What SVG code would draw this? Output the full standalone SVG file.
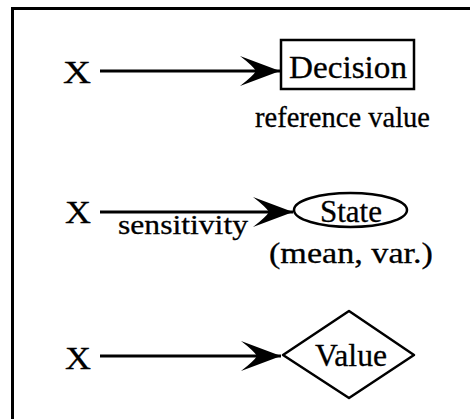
<svg xmlns="http://www.w3.org/2000/svg" width="470" height="419" viewBox="0 0 470 419">
  <style>
    text { font-family: "Liberation Serif", "Times New Roman", serif; font-size: 32px; fill: #000; stroke: #000; stroke-width: 0.3; }
    .small { font-size: 30px; }
    .label { font-size: 28px; }
    .edge { stroke: #000; stroke-width: 3; fill: none; }
    .shape { stroke: #000; stroke-width: 2.5; fill: #fff; }
    .frame { stroke: #000; stroke-width: 3; fill: none; }
  </style>
  <defs>
    <marker id="head" markerUnits="userSpaceOnUse" markerWidth="44" markerHeight="34" viewBox="-42 -17 44 34" refX="0" refY="0" orient="auto">
      <path d="M0,0 L-40,-15 Q-27,-5 -24,0 Q-27,5 -40,15 Z" fill="#000"/>
    </marker>
  </defs>

  <!-- frame (top and left edges) -->
  <path class="frame" d="M12.5,419 V8.5 H470"/>

  <!-- connectors -->
  <g id="connectors">
    <line class="edge" x1="100" y1="71" x2="280" y2="71" marker-end="url(#head)"/>
    <line class="edge" x1="100" y1="212" x2="293" y2="212" marker-end="url(#head)"/>
    <line class="edge" x1="100" y1="356" x2="281" y2="356" marker-end="url(#head)"/>
  </g>

  <!-- row 1: decision -->
  <g id="x1"><text x="63" y="83" textLength="28" lengthAdjust="spacingAndGlyphs">X</text></g>
  <g id="decision">
    <rect class="shape" x="281" y="40" width="133" height="49"/>
    <text x="289" y="78" textLength="118" lengthAdjust="spacingAndGlyphs">Decision</text>
    <text class="small" x="255" y="127" textLength="175" lengthAdjust="spacingAndGlyphs">reference value</text>
  </g>

  <!-- row 2: state -->
  <g id="x2"><text x="65" y="223" textLength="26" lengthAdjust="spacingAndGlyphs">X</text></g>
  <text class="label" x="118" y="234" textLength="130" lengthAdjust="spacingAndGlyphs">sensitivity</text>
  <g id="state">
    <ellipse class="shape" cx="350.5" cy="210" rx="56.5" ry="17"/>
    <text x="320" y="222" textLength="62" lengthAdjust="spacingAndGlyphs">State</text>
    <text class="small" x="269" y="263" textLength="164" lengthAdjust="spacingAndGlyphs">(mean, var.)</text>
  </g>

  <!-- row 3: value -->
  <g id="x3"><text x="65" y="369" textLength="26" lengthAdjust="spacingAndGlyphs">X</text></g>
  <g id="value">
    <polygon class="shape" points="283,355 349,311 414,355 349,398" stroke-linejoin="round"/>
    <text x="315" y="366" textLength="72" lengthAdjust="spacingAndGlyphs">Value</text>
  </g>
</svg>
